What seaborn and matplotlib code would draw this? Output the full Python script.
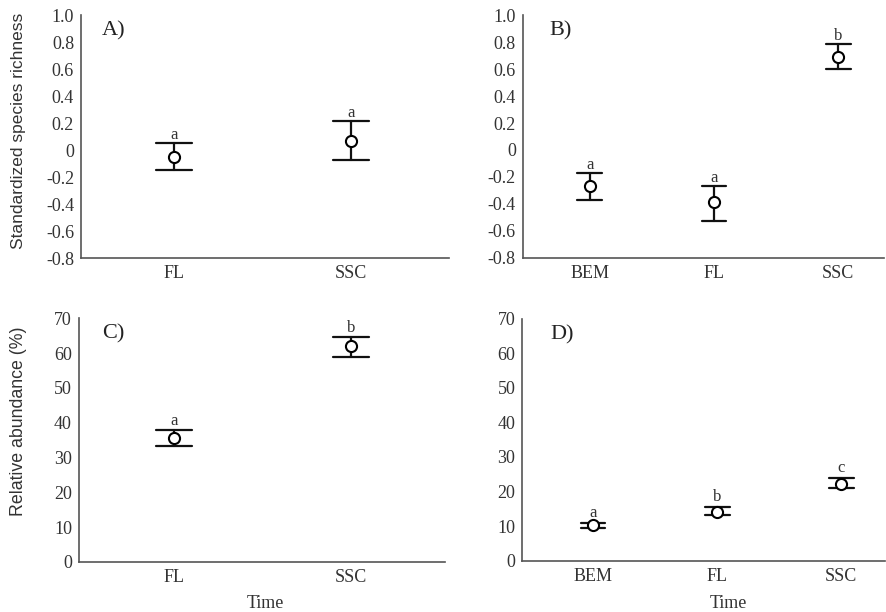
import numpy as np
import pandas as pd
import matplotlib
matplotlib.use("Agg")
import matplotlib.pyplot as plt
import seaborn as sns

# --- data ---
cats_2 = ["FL", "SSC"]
cats_3 = ["BEM", "FL", "SSC"]

# A) standardized species richness, two groups
rich_a_mean = [-0.05, 0.07]
rich_a_low = [-0.145, -0.07]
rich_a_up = [0.055, 0.22]
rich_a_letters = ["a", "a"]

# B) standardized species richness, three groups
rich_b_mean = [-0.27, -0.39, 0.69]
rich_b_low = [-0.37, -0.53, 0.60]
rich_b_up = [-0.17, -0.27, 0.79]
rich_b_letters = ["a", "a", "b"]

# C) relative abundance (%), two groups
abun_c_mean = [35.5, 62.0]
abun_c_low = [33.3, 59.0]
abun_c_up = [37.9, 64.5]
abun_c_letters = ["a", "b"]

# D) relative abundance (%), three groups
abun_d_mean = [10.2, 14.1, 22.3]
abun_d_low = [9.4, 13.2, 20.9]
abun_d_up = [10.8, 15.6, 23.8]
abun_d_letters = ["a", "b", "c"]

SERIF = "Liberation Serif"
SANS = "Liberation Sans"
INK = "#333333"


def long_table(cats, mean, low, up):
    # each group gets its lower bound, mean and upper bound as rows
    rows = []
    for c, m, lo, hi in zip(cats, mean, low, up):
        rows += [(c, lo), (c, m), (c, hi)]
    return pd.DataFrame(rows, columns=["group", "value"])


def panel(ax, cats, mean, low, up, letters, tag, tag_x, ylim, yticks, yticklabels, xlim, letter_pad):
    df = long_table(cats, mean, low, up)
    sns.pointplot(
        data=df, x="group", y="value", order=cats, ax=ax,
        estimator="median", errorbar=lambda v: (v.min(), v.max()),
        linestyle="none", color="black", capsize=0.2,
        marker="o", markersize=8, markerfacecolor="white",
        markeredgecolor="black", markeredgewidth=1.5,
        err_kws={"linewidth": 1.6, "color": "#111111"},
    )
    # circles above the error bar lines, like the original
    for ln in ax.lines:
        if ln.get_marker() not in (None, "None", "", " "):
            ln.set_zorder(5)
    for i, (hi, lab) in enumerate(zip(up, letters)):
        ax.text(i, hi + letter_pad, lab, ha="center", va="bottom",
                family=SERIF, fontsize=12, color=INK)
    ax.text(tag_x, 0.975, tag, transform=ax.transAxes, ha="left", va="top",
            family=SERIF, fontsize=16, color="#222222")
    ax.set_ylim(*ylim)
    ax.set_xlim(*xlim)
    ax.set_yticks(yticks)
    ax.set_yticklabels(yticklabels)
    ax.set_xlabel("")
    ax.set_ylabel("")
    for s in ["top", "right"]:
        ax.spines[s].set_visible(False)
    for s in ["left", "bottom"]:
        ax.spines[s].set_color("#555555")
        ax.spines[s].set_linewidth(1.2)
    ax.tick_params(direction="in", length=3, width=1, color="#555555",
                   labelsize=13, labelcolor=INK, pad=5)
    for t in ax.get_xticklabels() + ax.get_yticklabels():
        t.set_family(SERIF)


sns.set_theme(style="white")
plt.rcParams["font.family"] = SERIF

fig = plt.figure(figsize=(8.86, 6.12), dpi=100)
ax_a = fig.add_axes([0.0914, 0.578, 0.415, 0.397])
ax_b = fig.add_axes([0.590, 0.579, 0.408, 0.396])
ax_c = fig.add_axes([0.089, 0.082, 0.413, 0.398])
ax_d = fig.add_axes([0.5895, 0.084, 0.409, 0.395])

rich_ticks = [-0.8, -0.6, -0.4, -0.2, 0, 0.2, 0.4, 0.6, 0.8, 1.0]
rich_labels = ["-0.8", "-0.6", "-0.4", "-0.2", "0", "0.2", "0.4", "0.6", "0.8", "1.0"]
abun_ticks = [0, 10, 20, 30, 40, 50, 60, 70]
abun_labels = [str(t) for t in abun_ticks]

panel(ax_a, cats_2, rich_a_mean, rich_a_low, rich_a_up, rich_a_letters, "A)", 0.057,
      (-0.8, 1.0), rich_ticks, rich_labels, (-0.525, 1.55), 0.0)
panel(ax_b, cats_3, rich_b_mean, rich_b_low, rich_b_up, rich_b_letters, "B)", 0.074,
      (-0.8, 1.0), rich_ticks, rich_labels, (-0.54, 2.37), 0.0)
panel(ax_c, cats_2, abun_c_mean, abun_c_low, abun_c_up, abun_c_letters, "C)", 0.063,
      (0, 70), abun_ticks, abun_labels, (-0.537, 1.53), 0.3)
panel(ax_d, cats_3, abun_d_mean, abun_d_low, abun_d_up, abun_d_letters, "D)", 0.077,
      (0, 70), abun_ticks, abun_labels, (-0.57, 2.35), 0.6)

fig.text(0.021, 0.786, "Standardized species richness", rotation=90,
         ha="center", va="center", family=SANS, fontsize=12.5, color="#333333")
fig.text(0.021, 0.312, "Relative abundance (%)", rotation=90,
         ha="center", va="center", family=SANS, fontsize=12.8, color="#333333")
fig.text(0.299, 0.014, "Time", ha="center", va="center", family=SERIF,
         fontsize=13, color=INK)
fig.text(0.822, 0.014, "Time", ha="center", va="center", family=SERIF,
         fontsize=13, color=INK)

fig.savefig("out.png", dpi=100)
